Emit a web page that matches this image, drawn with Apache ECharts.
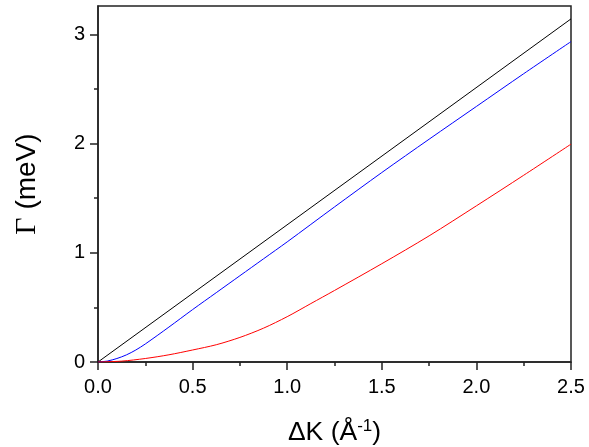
<!DOCTYPE html>
<html>
<head>
<meta charset="utf-8">
<script src="https://cdn.jsdelivr.net/npm/echarts@6/dist/echarts.min.js"></script>
<style>html,body{margin:0;padding:0;background:#fff;}#c{width:589px;height:447px;}</style>
</head>
<body>
<div id="c"></div>
<script>
var blackK = [0, 2.5];
var blackG = [0, 3.142];
var blueK = [0, 0.05, 0.1, 0.15, 0.2, 0.25, 0.375, 0.5, 0.625, 0.75, 0.875, 1.0, 1.25, 1.5, 1.75, 2.0, 2.25, 2.5];
var blueG = [0, 0.009, 0.032, 0.065, 0.11, 0.165, 0.32, 0.48, 0.635, 0.79, 0.945, 1.10, 1.42, 1.735, 2.04, 2.34, 2.64, 2.934];
var redK = [0, 0.125, 0.25, 0.375, 0.5, 0.625, 0.75, 0.875, 1.0, 1.125, 1.25, 1.5, 1.75, 2.0, 2.25, 2.5];
var redG = [0, 0.008, 0.032, 0.066, 0.11, 0.158, 0.225, 0.31, 0.415, 0.535, 0.655, 0.90, 1.155, 1.43, 1.71, 1.995];
var yMajor = [0, 1, 2, 3];
var yMinor = [0.5, 1.5, 2.5];

function pairs(xs, ys) { return xs.map(function (x, i) { return [x, ys[i]]; }); }

var chart = echarts.init(document.getElementById('c'));
var FONT = 'Liberation Sans, Arial, Helvetica, sans-serif';
chart.setOption({
  animation: false,
  grid: { left: 98, right: 18, top: 6, bottom: 85, outerBoundsMode: 'none', containLabel: false, show: true, borderColor: '#222', borderWidth: 1.5, backgroundColor: 'transparent' },
  xAxis: [{
    type: 'value', min: 0, max: 2.5, interval: 0.5,
    axisLine: { show: true, lineStyle: { color: '#222', width: 1.5 } },
    axisTick: { show: true, inside: false, length: 8, lineStyle: { color: '#222', width: 1.5 } },
    minorTick: { show: true, splitNumber: 2, length: 4, lineStyle: { color: '#222', width: 1.5 } },
    splitLine: { show: false },
    axisLabel: { color: '#000', fontSize: 20, fontFamily: FONT, margin: 15, formatter: function (v) { return v.toFixed(1); } },
    name: 'ΔK (Å{sup|-1})', nameLocation: 'middle', nameGap: 56,
    nameTextStyle: { color: '#000', fontSize: 26.5, fontFamily: FONT,
      rich: { sup: { fontSize: 17, fontFamily: FONT, color: '#000', verticalAlign: 'top', padding: [0, 0, 13, 0] } } }
  }],
  yAxis: [{
    type: 'value', min: 0, max: 3.26,
    axisLine: { show: true, lineStyle: { color: '#222', width: 1.5 } },
    axisTick: { show: true, inside: false, length: 8, customValues: yMajor, lineStyle: { color: '#222', width: 1.5 } },
    splitLine: { show: false },
    axisLabel: { color: '#000', fontSize: 20, fontFamily: FONT, margin: 13, customValues: yMajor },
    name: '{g|Γ} (meV)', nameLocation: 'middle', nameGap: 56, nameRotate: 90,
    nameTextStyle: { color: '#000', fontSize: 28, fontFamily: FONT,
      rich: { g: { fontSize: 30, fontFamily: 'Liberation Serif, Times New Roman, serif', color: '#000' } } }
  }, {
    type: 'value', min: 0, max: 3.26, position: 'left',
    axisLine: { show: false },
    axisTick: { show: true, inside: false, length: 4, customValues: yMinor, lineStyle: { color: '#222', width: 1.5 } },
    splitLine: { show: false },
    axisLabel: { show: false }
  }],
  series: [
    { type: 'line', data: pairs(blackK, blackG), showSymbol: false, lineStyle: { color: '#000', width: 1 }, yAxisIndex: 0 },
    { type: 'line', data: pairs(blueK, blueG), showSymbol: false, smooth: 0.3, lineStyle: { color: '#0000ff', width: 1 }, yAxisIndex: 0 },
    { type: 'line', data: pairs(redK, redG), showSymbol: false, smooth: 0.3, lineStyle: { color: '#ff0000', width: 1 }, yAxisIndex: 0 }
  ]
});
</script>
</body>
</html>
